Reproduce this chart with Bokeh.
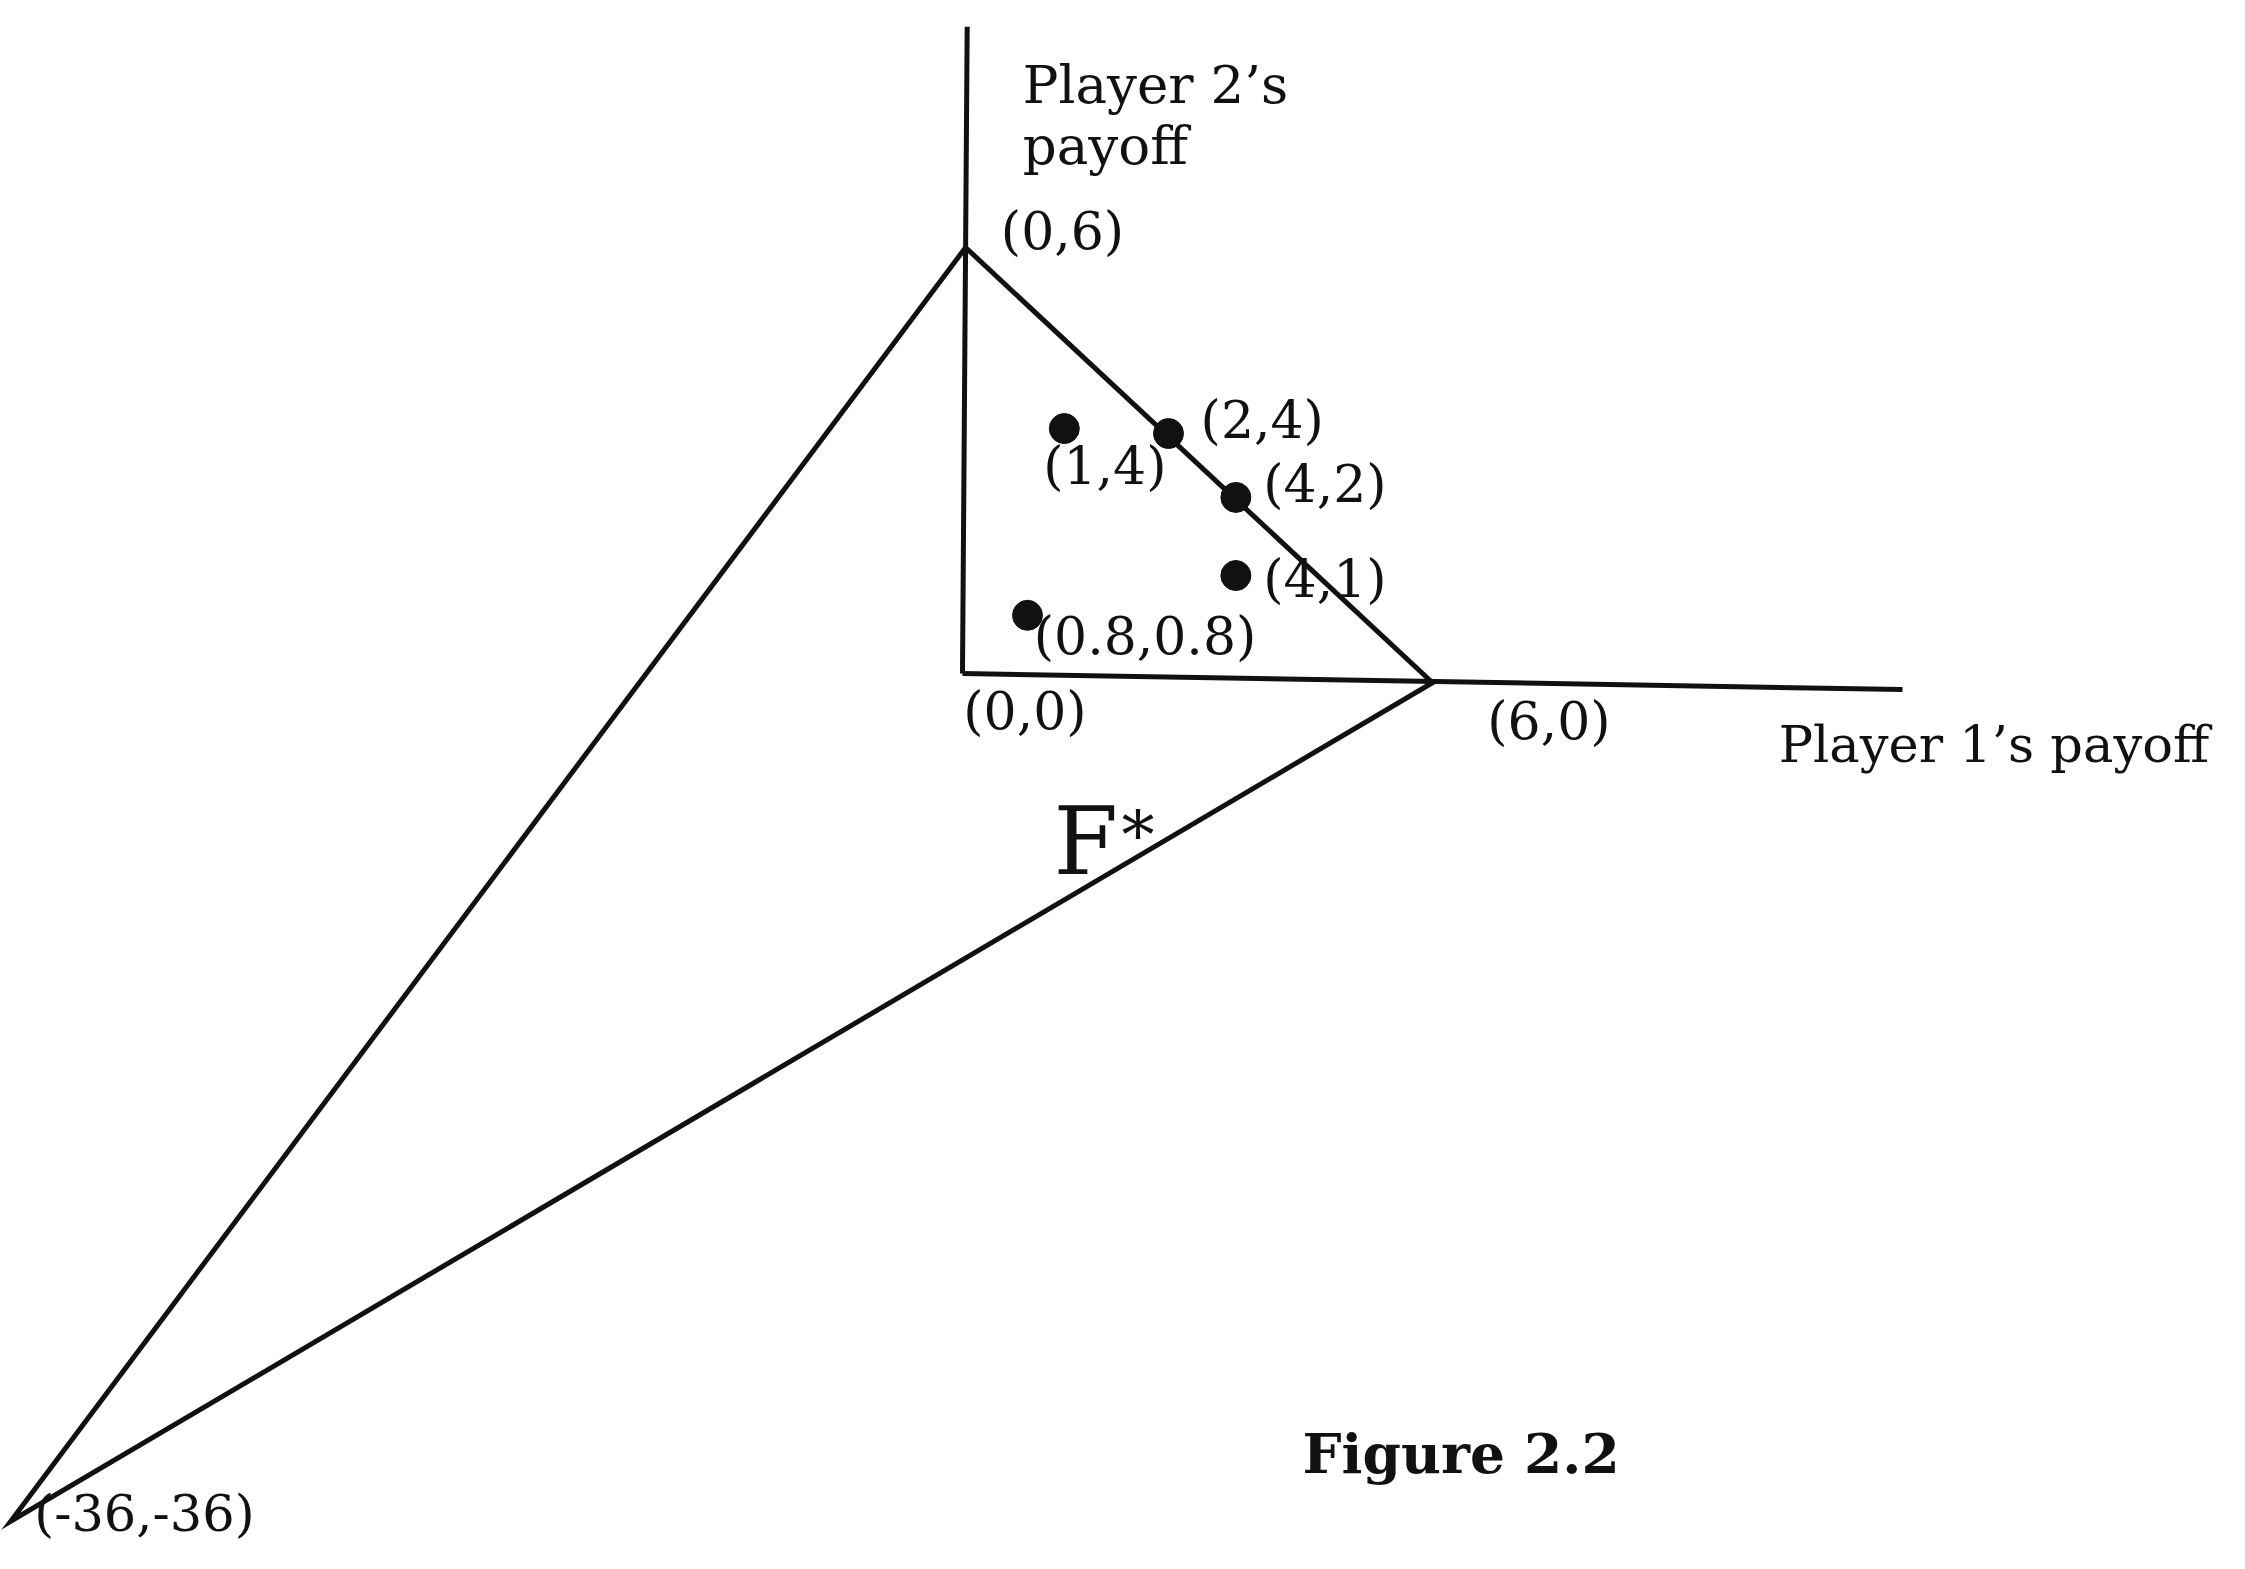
from bokeh.plotting import figure
from bokeh.models import Range1d, ColumnDataSource
from bokeh.core.properties import value
from bokeh.embed import file_html
from bokeh.resources import INLINE

# Schematic (hand-drawn, not to scale) positions of the payoff points, in drawing
# units where the origin is (0,0) and the drawn (0,6)/(6,0) sit 6 units along each axis.
point_labels = ["(1,4)", "(2,4)", "(4,2)", "(4,1)", "(0.8,0.8)"]
point_x = [1.30, 2.63, 3.49, 3.49, 0.83]
point_y = [3.45, 3.38, 2.48, 1.38, 0.82]

# Vertices of the region F*: (0,6), (6,0), (-36,-36) as drawn
vertex_labels = ["(0,6)", "(6,0)", "(-36,-36)"]
vertex_x = [0.04, 6.00, -12.15]
vertex_y = [6.00, -0.13, -11.94]

# Axes as drawn (origin, end of each axis)
axis_origin = (0.0, 0.0)
y_axis_end = (0.06, 9.11)
x_axis_end = (12.00, -0.225)

# Point / vertex annotations (left edge, baseline)
label_text = ["(1,4)", "(2,4)", "(4,2)", "(4,1)", "(0.8,0.8)",
              "(0,6)", "(0,0)", "(6,0)"]
label_x = [1.03, 3.04, 3.84, 3.84, 0.91, 0.49, 0.01, 6.70]
label_y = [2.69, 3.35, 2.44, 1.10, 0.30, 6.00, -0.76, -0.90]

# Axis titles
title_text = ["Player 2\u2019s", "payoff", "Player 1\u2019s payoff"]
title_x = [0.77, 0.77, 10.42]
title_y = [8.06, 7.21, -1.225]

p = figure(width=2229, height=1553,
           x_range=Range1d(-12.281, 16.175), y_range=Range1d(-12.394, 9.479),
           x_axis_type=None, y_axis_type=None,
           min_border=0, toolbar_location=None, output_backend="svg")
p.grid.visible = False
p.outline_line_color = None
p.background_fill_color = "white"
p.border_fill_color = "white"

ink = "#111111"
lw = 5

# axes
p.line([axis_origin[0], y_axis_end[0]], [axis_origin[1], y_axis_end[1]],
       line_color=ink, line_width=lw)
p.line([axis_origin[0], x_axis_end[0]], [axis_origin[1], x_axis_end[1]],
       line_color=ink, line_width=lw)

# region F* (closed triangle)
tx = [vertex_x[0], vertex_x[1], vertex_x[2], vertex_x[0]]
ty = [vertex_y[0], vertex_y[1], vertex_y[2], vertex_y[0]]
p.line(tx, ty, line_color=ink, line_width=lw, line_join="miter")

# payoff points
p.scatter(point_x, point_y, size=30, marker="circle",
          fill_color=ink, line_color=ink)

font = value("DejaVu Serif")


def put_text(xs, ys, texts, size, style="normal"):
    src = ColumnDataSource(dict(x=xs, y=ys, t=texts))
    p.text(x="x", y="y", text="t", source=src, text_font=font,
           text_font_size=f"{size}px", text_font_style=style, text_color=ink,
           text_align="left", text_baseline="alphabetic",
           y_offset=-0.31 * size)


put_text(label_x, label_y, label_text, 52)
put_text([-11.85], [-12.05], ["(-36,-36)"], 51)
put_text(title_x[:2], title_y[:2], title_text[:2], 53)
put_text(title_x[2:], title_y[2:], title_text[2:], 51)

# F* label
put_text([1.162], [-2.775], ["F"], 93)
put_text([2.03], [-2.563], ["*"], 66)

# caption
put_text([4.341], [-11.225], ["Figure 2.2"], 55, "bold")

open("out.html", "w").write(file_html(p, INLINE))
